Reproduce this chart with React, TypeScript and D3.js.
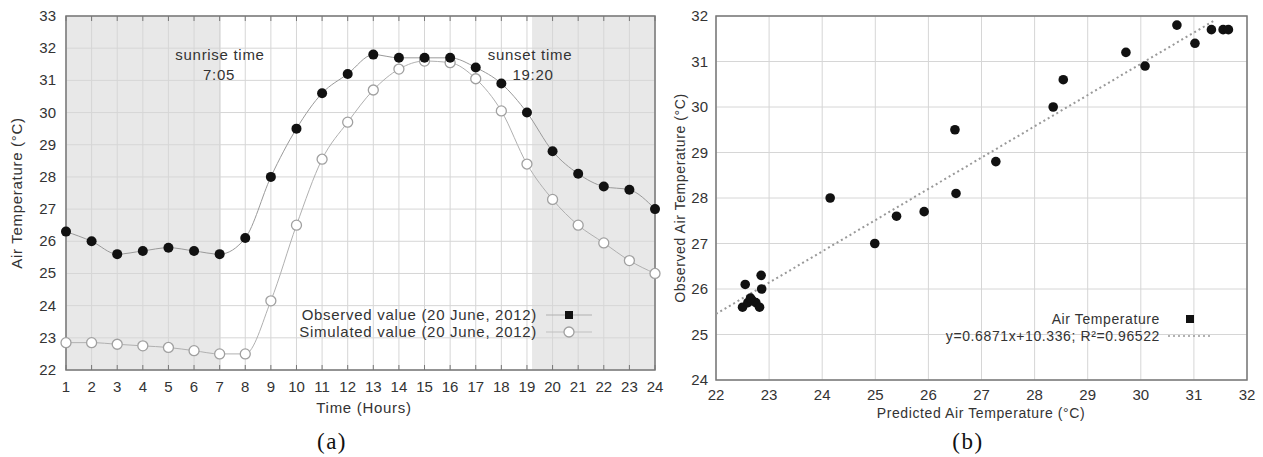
import React from 'react'
import * as d3 from 'd3'

// panel (a): hourly air temperature, 20 June 2012
const hours = [1, 2, 3, 4, 5, 6, 7, 8, 9, 10, 11, 12, 13, 14, 15, 16, 17, 18, 19, 20, 21, 22, 23, 24]
const observed = [26.3, 26.0, 25.6, 25.7, 25.8, 25.7, 25.6, 26.1, 28.0, 29.5, 30.6, 31.2, 31.8, 31.7, 31.7, 31.7, 31.4, 30.9, 30.0, 28.8, 28.1, 27.7, 27.6, 27.0]
const simulated = [22.85, 22.85, 22.8, 22.75, 22.7, 22.6, 22.5, 22.5, 24.15, 26.5, 28.55, 29.7, 30.7, 31.35, 31.6, 31.55, 31.05, 30.05, 28.4, 27.3, 26.5, 25.95, 25.4, 25.0]
const yTicksA = [22, 23, 24, 25, 26, 27, 28, 29, 30, 31, 32, 33]
const sunrise = 7.05
const sunset = 19.2

// panel (b): predicted vs observed
const predicted = [22.85, 22.86, 22.55, 22.5, 22.6, 22.68, 22.75, 22.82, 22.65, 24.15, 24.99, 25.4, 25.92, 26.52, 26.5, 27.27, 28.35, 28.54, 29.72, 30.08, 30.68, 31.02, 31.33, 31.55, 31.65]
const observedB = [26.3, 26.0, 26.1, 25.6, 25.7, 25.75, 25.7, 25.6, 25.8, 28.0, 27.0, 27.6, 27.7, 28.1, 29.5, 28.8, 30.0, 30.6, 31.2, 30.9, 31.8, 31.4, 31.7, 31.7, 31.7]
const xTicksB = [22, 23, 24, 25, 26, 27, 28, 29, 30, 31, 32]
const yTicksB = [24, 25, 26, 27, 28, 29, 30, 31, 32]
const fitSlope = 0.6871
const fitIntercept = 10.336
const fitRange = [22, 31.4]

const font = 'Liberation Sans, Arial, sans-serif'
const serif = 'Liberation Serif, Times New Roman, serif'
const gridColor = '#d6d6d6'
const frameColor = '#777'
const textColor = '#333'

const ChartA = () => {
  const x = d3.scaleLinear().domain([1, 24]).range([66, 655])
  const y = d3.scaleLinear().domain([22, 33]).range([370, 16])
  const pts = hours.map((h, i) => ({ h, o: observed[i], s: simulated[i] }))
  const lineO = d3.line<any>().x(d => x(d.h)).y(d => y(d.o)).curve(d3.curveMonotoneX)
  const lineS = d3.line<any>().x(d => x(d.h)).y(d => y(d.s)).curve(d3.curveMonotoneX)
  const lbl = { fontSize: 15, letterSpacing: 0.7, fill: textColor }
  return (
    <g fontFamily={font}>
      <rect x={x(1)} y={y(33)} width={x(sunrise) - x(1)} height={y(22) - y(33)} fill="#e8e8e8" />
      <rect x={x(sunset)} y={y(33)} width={x(24) - x(sunset)} height={y(22) - y(33)} fill="#e8e8e8" />
      {hours.map(h => (
        <line key={'gx' + h} x1={x(h)} x2={x(h)} y1={y(33)} y2={y(22)} stroke={gridColor} strokeWidth={1} />
      ))}
      {yTicksA.map(t => (
        <line key={'gy' + t} x1={x(1)} x2={x(24)} y1={y(t)} y2={y(t)} stroke={gridColor} strokeWidth={1} />
      ))}
      <rect x={x(1)} y={y(33)} width={x(24) - x(1)} height={y(22) - y(33)} fill="none" stroke={frameColor} strokeWidth={1.5} />
      {hours.map(h => (
        <g key={'tx' + h}>
          <line x1={x(h)} x2={x(h)} y1={y(22)} y2={y(22) - 5} stroke={frameColor} />
          <line x1={x(h)} x2={x(h)} y1={y(33)} y2={y(33) + 5} stroke={frameColor} />
          <text x={x(h)} y={y(22) + 22} textAnchor="middle" fontSize={15} fill={textColor}>{h}</text>
        </g>
      ))}
      {yTicksA.map(t => (
        <text key={'ty' + t} x={x(1) - 10} y={y(t) + 5} textAnchor="end" fontSize={15} fill={textColor}>{t}</text>
      ))}
      <path d={lineO(pts) || ''} fill="none" stroke="#9a9a9a" strokeWidth={1} />
      <path d={lineS(pts) || ''} fill="none" stroke="#b0b0b0" strokeWidth={1} />
      {pts.map(p => (
        <circle key={'s' + p.h} cx={x(p.h)} cy={y(p.s)} r={5} fill="#fff" stroke="#a0a0a0" strokeWidth={1.3} />
      ))}
      {pts.map(p => (
        <circle key={'o' + p.h} cx={x(p.h)} cy={y(p.o)} r={5} fill="#111" />
      ))}
      <text x={220} y={60} textAnchor="middle" {...lbl}>sunrise time</text>
      <text x={219} y={80} textAnchor="middle" {...lbl}>7:05</text>
      <text x={530} y={60} textAnchor="middle" {...lbl}>sunset time</text>
      <text x={533} y={80} textAnchor="middle" {...lbl}>19:20</text>
      <text x={537} y={320} textAnchor="end" {...lbl}>Observed value (20 June, 2012)</text>
      <line x1={546} x2={592} y1={315} y2={315} stroke="#b0b0b0" />
      <rect x={565} y={311} width={8} height={8} fill="#111" />
      <text x={537} y={337} textAnchor="end" {...lbl}>Simulated value (20 June, 2012)</text>
      <line x1={546} x2={592} y1={332} y2={332} stroke="#c0c0c0" />
      <circle cx={569} cy={332} r={5} fill="#fff" stroke="#a0a0a0" strokeWidth={1.3} />
      <text x={364} y={413} textAnchor="middle" {...lbl}>Time (Hours)</text>
      <text transform={`translate(22,${(y(22) + y(33)) / 2}) rotate(-90)`} textAnchor="middle" {...lbl}>Air Temperature (°C)</text>
      <text x={332} y={449} textAnchor="middle" fontSize={23} letterSpacing={1.5} fontFamily={serif} fill="#111">(a)</text>
    </g>
  )
}

const ChartB = () => {
  const x = d3.scaleLinear().domain([22, 32]).range([716, 1247])
  const y = d3.scaleLinear().domain([24, 32]).range([380, 16])
  const pts = predicted.map((p, i) => ({ p, o: observedB[i] }))
  const fit = d3.line<number>().x(d => x(d)).y(d => y(fitSlope * d + fitIntercept))
  const lbl = { fontSize: 14, letterSpacing: 0.6, fill: textColor }
  return (
    <g fontFamily={font}>
      {xTicksB.map(t => (
        <line key={'gx' + t} x1={x(t)} x2={x(t)} y1={y(32)} y2={y(24)} stroke={gridColor} strokeWidth={1} />
      ))}
      {yTicksB.map(t => (
        <line key={'gy' + t} x1={x(22)} x2={x(32)} y1={y(t)} y2={y(t)} stroke={gridColor} strokeWidth={1} />
      ))}
      <rect x={x(22)} y={y(32)} width={x(32) - x(22)} height={y(24) - y(32)} fill="none" stroke={frameColor} strokeWidth={1.5} />
      {xTicksB.map(t => (
        <text key={'tx' + t} x={x(t)} y={y(24) + 20} textAnchor="middle" fontSize={15} fill={textColor}>{t}</text>
      ))}
      {yTicksB.map(t => (
        <text key={'ty' + t} x={x(22) - 8} y={y(t) + 5} textAnchor="end" fontSize={15} fill={textColor}>{t}</text>
      ))}
      <path d={fit(fitRange) || ''} fill="none" stroke="#999" strokeWidth={2} strokeDasharray="2,3" />
      {pts.map((d, i) => (
        <circle key={'p' + i} cx={x(d.p)} cy={y(d.o)} r={4.8} fill="#111" />
      ))}
      <text x={1160} y={324} textAnchor="end" {...lbl}>Air Temperature</text>
      <rect x={1186} y={315} width={8} height={8} fill="#111" />
      <text x={1160} y={341} textAnchor="end" {...lbl}>y=0.6871x+10.336; R²=0.96522</text>
      <line x1={1168} x2={1210} y1={336} y2={336} stroke="#999" strokeWidth={1.5} strokeDasharray="2,3" />
      <text x={981} y={418} textAnchor="middle" {...lbl}>Predicted Air Temperature  (°C)</text>
      <text transform={`translate(685,${(y(24) + y(32)) / 2}) rotate(-90)`} textAnchor="middle" {...lbl}>Observed Air Temperature (°C)</text>
      <text x={968} y={449} textAnchor="middle" fontSize={23} letterSpacing={1.5} fontFamily={serif} fill="#111">(b)</text>
    </g>
  )
}

const App = () => {
  return (
    <svg width={1263} height={457} style={{ position: 'absolute', left: 0, top: 0, background: '#fff' }}>
      <ChartA />
      <ChartB />
    </svg>
  )
}

export default App
